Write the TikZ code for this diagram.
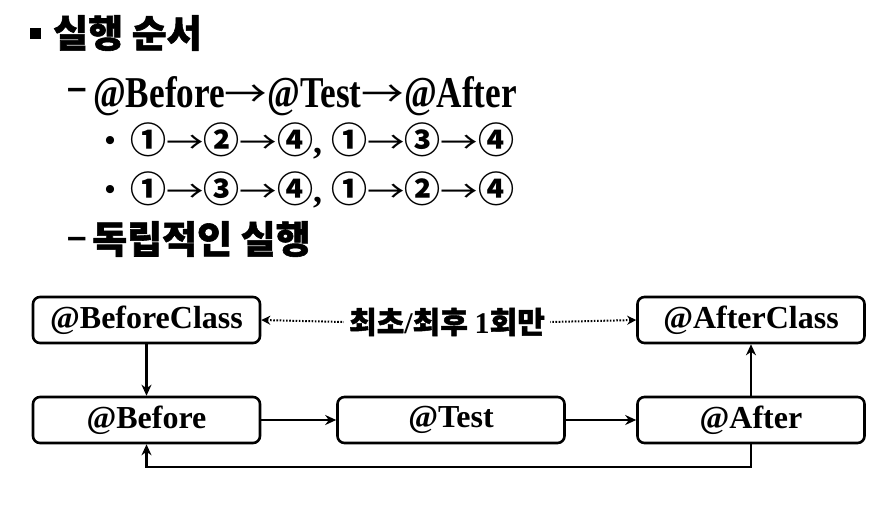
\documentclass[tikz,border=0pt]{standalone}
\usepackage{graphicx}
\usepackage{fontspec}
\setmainfont{Liberation Serif}
\newfontfamily\kr[BoldFeatures={FakeBold=1.5}]{Noto Sans CJK KR}
\newfontfamily\krc{Noto Sans CJK KR}
\newfontfamily\krar{Noto Sans CJK KR}
\newfontfamily\serifc[FakeStretch=0.80]{Liberation Serif}
\newfontfamily\dashfont{Liberation Sans}
\usetikzlibrary{arrows.meta}
\tikzset{
  box/.style={draw, line width=2.6pt, rounded corners=7pt, minimum width=227pt,
    minimum height=46pt, inner sep=0pt, font=\fontsize{32}{32}\selectfont\bfseries},
  conn/.style={line width=2.3pt, -{Stealth[length=11pt,width=10pt]}},
  dotconn/.style={line width=2pt, dash pattern=on 1.6pt off 1.6pt, {Stealth[length=9pt,width=9pt]}-},
  krbig/.style={anchor=west, inner sep=0pt, font=\kr\bfseries\fontsize{38}{38}\selectfont},
  dashtext/.style={anchor=base west, inner sep=0pt, font=\dashfont\bfseries\fontsize{35}{35}\selectfont},
  numline/.style={anchor=west, inner sep=0pt, font=\bfseries\fontsize{36}{36}\selectfont},
  dotbullet/.style={anchor=center, inner sep=0pt, font=\bfseries\fontsize{30}{30}\selectfont},
}
\newcommand{\cn}[1]{{\krc\bfseries\fontsize{36}{36}\selectfont #1}}
\newcommand{\ar}{{\krar\mdseries\fontsize{30}{30}\selectfont\scalebox{1.25}[1]{→}}}
\newcommand{\arb}{{\krar\mdseries\fontsize{37}{37}\selectfont\scalebox{1.15}[1]{→}}}
\begin{document}
\begin{tikzpicture}[x=1pt,y=-1pt]
\useasboundingbox (0,0) rectangle (888,514);
% line 1
\fill (30,28) rectangle (41,39);
\node[krbig] (t1) at (53,33) {실행 순서};
% line 2
\node[dashtext] (d2) at (67,99) {–};
\node[anchor=base west, inner sep=0pt, font=\serifc\bfseries\fontsize{44}{44}\selectfont] (t2) at (93,107) {@Before\arb@Test\arb@After};
% line 3 and 4
\node[dotbullet] (b3) at (110,144) {•};
\node[numline] (t3) at (130,141) {\cn{①}\ar\cn{②}\ar\cn{④}, \cn{①}\ar\cn{③}\ar\cn{④}};
\node[dotbullet] (b4) at (110,193) {•};
\node[numline] (t4) at (130,190) {\cn{①}\ar\cn{③}\ar\cn{④}, \cn{①}\ar\cn{②}\ar\cn{④}};
% line 5
\node[dashtext] (d5) at (67,248) {–};
\node[krbig] (t5) at (92,239) {독립적인 실행};
% boxes
\node[box] (BC) at (146.5,320) {@BeforeClass};
\node[box] (AC) at (751,320) {@AfterClass};
\node[box] (B) at (146.5,420) {@Before};
\node[box] (T) at (451,420) {@Test};
\node[box] (A) at (751,420) {@After};
\node[inner sep=5pt, font=\bfseries\fontsize{30}{30}\selectfont] (once) at (447,322) {\kr 최초\rmfamily/\kr 최후 \rmfamily 1\kr 회만};
% connectors
\draw[dotconn] (BC.east) -- (once.west);
\draw[dotconn] (AC.west) -- (once.east);
\draw[conn] (BC) -- (B);
\draw[conn] (B) -- (T);
\draw[conn] (T) -- (A);
\draw[conn] (A) -- (AC);
\draw[conn] (A.south) -- ++(0,23) -| (B.south);
\end{tikzpicture}
\end{document}
